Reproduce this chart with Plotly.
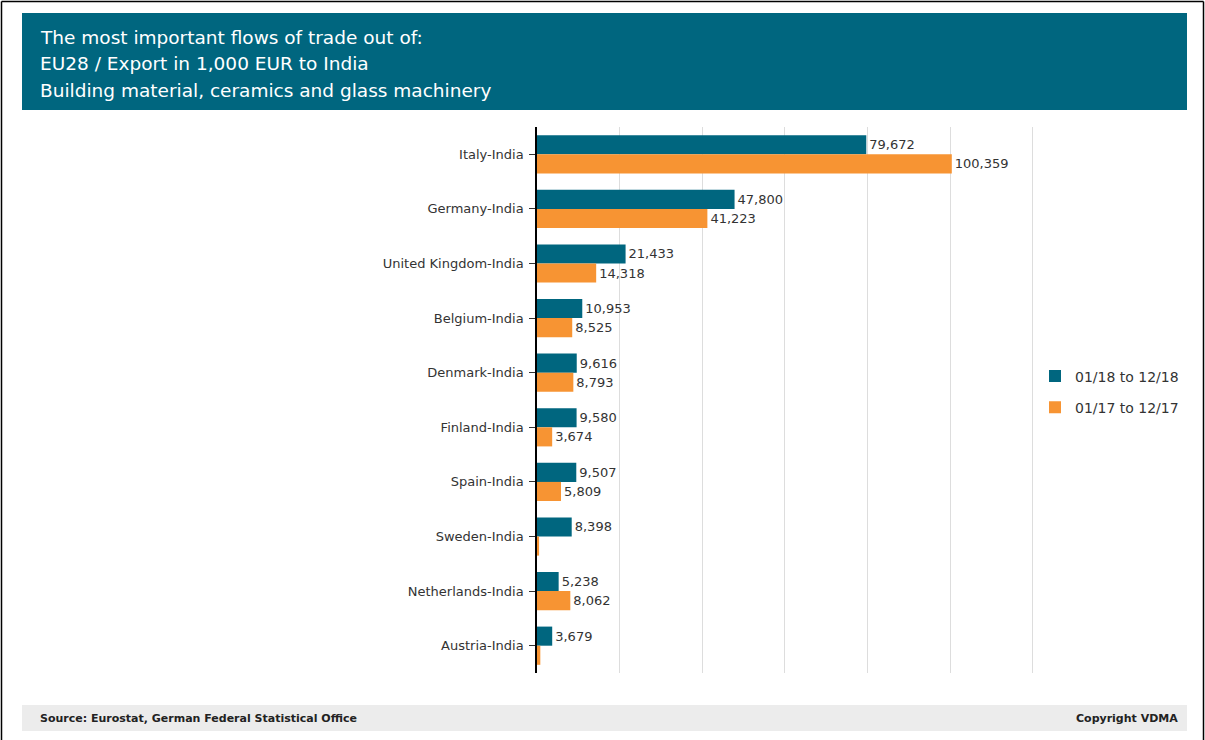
import plotly.graph_objects as go

categories = ["Italy-India", "Germany-India", "United Kingdom-India", "Belgium-India",
              "Denmark-India", "Finland-India", "Spain-India", "Sweden-India",
              "Netherlands-India", "Austria-India"]
values_2018 = [79672, 47800, 21433, 10953, 9616, 9580, 9507, 8398, 5238, 3679]
values_2017 = [100359, 41223, 14318, 8525, 8793, 3674, 5809, 500, 8062, 800]
labels_2018 = ["79,672", "47,800", "21,433", "10,953", "9,616", "9,580", "9,507", "8,398", "5,238", "3,679"]
labels_2017 = ["100,359", "41,223", "14,318", "8,525", "8,793", "3,674", "5,809", "", "8,062", ""]
series_names = ["01/18 to 12/18", "01/17 to 12/17"]
title_lines = ["The most important flows of trade out of:",
               "EU28 / Export in 1,000 EUR to India",
               "Building material, ceramics and glass machinery"]

TEAL = "#00667f"
ORANGE = "#f79433"
FONT = "DejaVu Sans"

fig = go.Figure()
fig.add_trace(go.Bar(y=categories, x=values_2018, orientation="h", name=series_names[0],
                     legendgroup="a",
                     marker=dict(color=TEAL, line=dict(width=0)),
                     text=labels_2018, textposition="outside", cliponaxis=False,
                     textfont=dict(family=FONT, size=13, color="#333333")))
fig.add_trace(go.Bar(y=categories, x=values_2017, orientation="h", name=series_names[1],
                     legendgroup="b",
                     marker=dict(color=ORANGE, line=dict(width=0)),
                     text=labels_2017, textposition="outside", cliponaxis=False,
                     textfont=dict(family=FONT, size=13, color="#333333")))

L, R, T, B = 537, 171, 127, 67
W, H = 1205, 740
pw = W - L - R
ph = H - T - B

def px(x):
    return (x - L) / pw

def py(y):
    return (H - B - y) / ph

shapes = [
    dict(type="rect", xref="paper", yref="paper", x0=px(22), x1=px(1187), y0=py(110), y1=py(13),
         fillcolor="#00667f", line=dict(width=0), layer="below"),
    dict(type="rect", xref="paper", yref="paper", x0=px(22), x1=px(1187), y0=py(731), y1=py(705),
         fillcolor="#ececec", line=dict(width=0), layer="below"),
    dict(type="line", xref="paper", yref="paper", x0=px(1.5), x1=px(1.5), y0=py(740), y1=py(1.5),
         line=dict(color="black", width=1.5)),
    dict(type="line", xref="paper", yref="paper", x0=px(1.5), x1=px(1203.5), y0=py(1.5), y1=py(1.5),
         line=dict(color="black", width=1.5)),
    dict(type="line", xref="paper", yref="paper", x0=px(1203.5), x1=px(1203.5), y0=py(1.5), y1=py(740),
         line=dict(color="black", width=1.5)),
]

annotations = []
for i, line in enumerate(title_lines):
    annotations.append(dict(xref="paper", yref="paper", x=px(38), y=py(38 + 26 * i),
                            xanchor="left", yanchor="middle", align="left", showarrow=False,
                            text=line, font=dict(family=FONT, size=18.5, color="white")))
annotations += [
    dict(xref="paper", yref="paper", x=px(38), y=py(718), xanchor="left", yanchor="middle",
         showarrow=False, text="<b>Source: Eurostat, German Federal Statistical Office</b>",
         font=dict(family="Liberation Sans Narrow, " + FONT, size=11, color="#222222")),
    dict(xref="paper", yref="paper", x=px(1180), y=py(718), xanchor="right", yanchor="middle",
         showarrow=False, text="<b>Copyright VDMA</b>",
         font=dict(family="Liberation Sans Narrow, " + FONT, size=11, color="#222222")),
]

fig.update_layout(
    width=W, height=H,
    margin=dict(l=L, r=R, t=T, b=B, pad=0),
    paper_bgcolor="white", plot_bgcolor="white",
    barmode="group", bargap=0.3, bargroupgap=0,
    font=dict(family=FONT, size=13, color="#333333"),
    shapes=shapes, annotations=annotations,
    legend=dict(x=px(1035), y=py(392), xanchor="left", yanchor="middle",
                font=dict(family=FONT, size=14, color="#333333"),
                tracegroupgap=10, bgcolor="rgba(0,0,0,0)"),
    showlegend=True,
)
fig.update_xaxes(range=[0, 120250], dtick=20000, showgrid=True, gridcolor="#dddddd", gridwidth=1,
                 showticklabels=False, zeroline=False, showline=False, ticks="")
fig.update_yaxes(autorange="reversed", showline=True, linecolor="black", linewidth=1.5,
                 ticks="outside", ticklen=6, tickcolor="#333333", ticklabelstandoff=3,
                 tickfont=dict(family=FONT, size=13, color="#333333"), showgrid=False)

fig.write_html("out.html", config={"displayModeBar": False},
               post_script="document.body.style.margin='0';document.body.style.overflow='hidden';")
